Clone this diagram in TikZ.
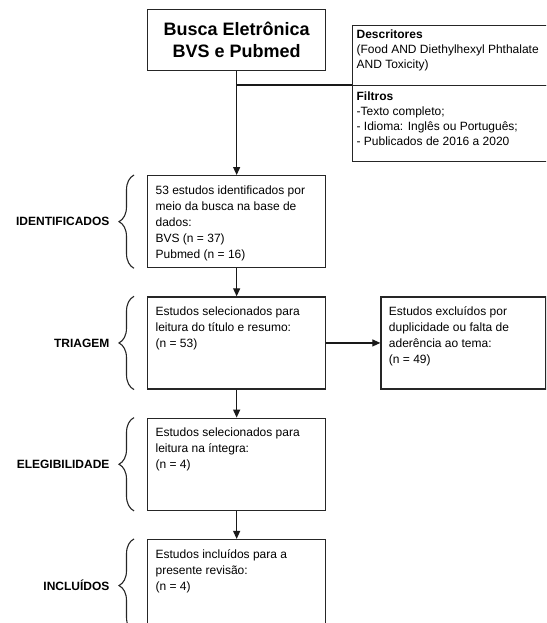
\documentclass[tikz,border=0pt]{standalone}
\usepackage{fontspec}
\setmainfont{Liberation Sans}
\usepackage{tikz}
\usetikzlibrary{positioning, arrows.meta, calc, decorations.pathreplacing}
\usepackage{xcolor}
\tikzset{
    stage/.style={
        draw=black!85,
        line width=1.3pt,
        inner xsep=8pt,
        inner ysep=6pt,
        font=\fontsize{12}{16}\selectfont
    },
    phase/.style={
        font=\bfseries\fontsize{12}{14}\selectfont,
        anchor=east
    },
    flow/.style={
        line width=1.2pt,
        draw=black!90,
        -{Triangle[length=8pt,width=7pt]}
    },
    bracket/.style={
        line width=1.1pt,
        draw=black!85,
        decorate,
        decoration={brace, amplitude=15pt}
    }
}
\newcommand{\boxtext}[3]{\parbox[c][#2][t]{#1}{\raggedright\vspace*{4pt}#3}}

\begin{document}
\begin{tikzpicture}[
        x=1pt, y=-1pt,
        note/.style={stage, anchor=north west, inner xsep=4pt, inner ysep=3pt,
          font=\fontsize{12}{15}\selectfont}
      ]

      \useasboundingbox (0,0) rectangle (546,623);
      \clip (0,0) rectangle (546,623);

      \node[stage, anchor=north west, align=center, minimum width=178pt, minimum height=61pt,
        font=\bfseries\fontsize{18}{22}\selectfont] (busca) at (147,9) {Busca Eletrônica\\BVS e Pubmed};

      \node[note] (desc) at (352,25) {\parbox[c][54pt][t]{202pt}{\raggedright\vspace*{1pt}\textbf{Descritores}\\(Food AND Diethylhexyl Phthalate\\AND Toxicity)}};
      \node[note] (filt) at (352,85) {\parbox[c][70pt][t]{202pt}{\raggedright\vspace*{3pt}\textbf{Filtros}\\-Texto completo;\\- Idioma: Inglês ou Português;\\- Publicados de 2016 a 2020}};

      \node[stage, anchor=north west] (ident) at (147,175) {\boxtext{162pt}{80pt}{53 estudos identificados por\\meio da busca na base de\\dados:\\BVS (n = 37)\\Pubmed (n = 16)}};
      \node[stage, below=28pt of ident] (triagem) {\boxtext{162pt}{80pt}{Estudos selecionados para\\leitura do título e resumo:\\(n = 53)}};
      \node[stage, right=54pt of triagem] (excl) {\boxtext{149pt}{80pt}{Estudos excluídos por\\duplicidade ou falta de\\aderência ao tema:\\(n = 49)}};
      \node[stage, below=28pt of triagem] (elegib) {\boxtext{162pt}{80pt}{Estudos selecionados para\\leitura na íntegra:\\(n = 4)}};
      \node[stage, below=28pt of elegib] (incl) {\boxtext{162pt}{80pt}{Estudos incluídos para a\\presente revisão:\\(n = 4)}};

      \coordinate (jn) at (busca.south |- 0,85);

      \draw[flow] (busca) -- (ident);
      \draw[line width=1.2pt, draw=black!90] (jn) -- (filt.north west);
      \draw[flow] (ident) -- (triagem);
      \draw[flow] (triagem) -- (excl);
      \draw[flow] (triagem) -- (elegib);
      \draw[flow] (elegib) -- (incl);

      \foreach \stg/\lbl in {ident/IDENTIFICADOS, triagem/TRIAGEM, elegib/ELEGIBILIDADE, incl/INCLUÍDOS} {
        \draw[bracket] ([xshift=-13pt]\stg.south west) -- ([xshift=-13pt]\stg.north west);
        \node[phase] (\stg-lbl) at ([xshift=-34pt]\stg.west) {\lbl};
      }

    \end{tikzpicture}
\end{document}
